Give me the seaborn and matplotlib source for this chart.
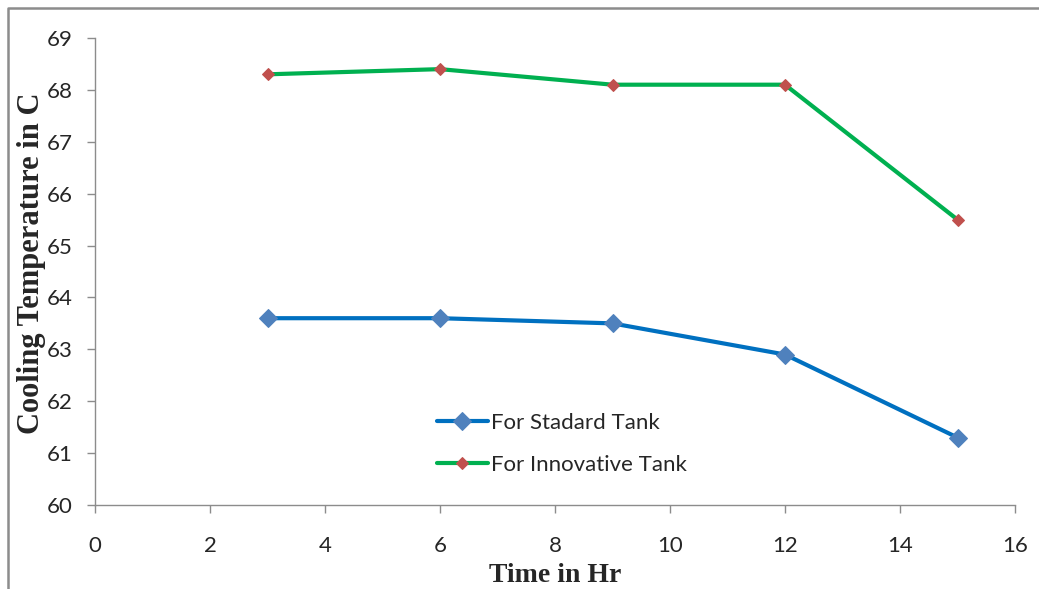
import matplotlib
matplotlib.use("Agg")
import matplotlib.pyplot as plt
from matplotlib.lines import Line2D
import seaborn as sns
import pandas as pd

time_hr = [3, 6, 9, 12, 15]
standard_tank = [63.6, 63.6, 63.5, 62.9, 61.3]
innovative_tank = [68.3, 68.4, 68.1, 68.1, 65.5]
series_names = ["For Stadard Tank", "For Innovative Tank"]
x_ticks = [0, 2, 4, 6, 8, 10, 12, 14, 16]
y_ticks = [60, 61, 62, 63, 64, 65, 66, 67, 68, 69]

sns.set_style("white")
plt.rcParams['font.family'] = ['Lato', 'DejaVu Sans']

W, H = 1039, 589
fig = plt.figure(figsize=(W / 100, H / 100), dpi=100)
ax = fig.add_axes([95 / W, 1 - 505 / H, (1015 - 95) / W, (505 - 38) / H])

sns.lineplot(x=time_hr, y=standard_tank, ax=ax, color="#0070C0", linewidth=3,
             marker="D", markersize=9, markerfacecolor="#4F81BD",
             markeredgecolor="#4F81BD", label=series_names[0])
sns.lineplot(x=time_hr, y=innovative_tank, ax=ax, color="#00B050", linewidth=3,
             marker="D", markersize=6, markerfacecolor="#C0504D",
             markeredgecolor="#C0504D", label=series_names[1])

ax.set_xlim(0, 16)
ax.set_ylim(60, 69)
ax.set_xticks(x_ticks)
ax.set_yticks(y_ticks)
for s in ["top", "right"]:
    ax.spines[s].set_visible(False)
for s in ["left", "bottom"]:
    ax.spines[s].set_color("#8c8c8c")
    ax.spines[s].set_linewidth(1.0)
ax.tick_params(axis="both", which="major", direction="out", length=6,
               width=1.0, color="#8c8c8c", labelsize=16, labelcolor="#262626",
               left=True, bottom=True)
ax.tick_params(axis="x", pad=16)
ax.tick_params(axis="y", pad=10)

ax.set_xlabel("Time in Hr", fontsize=20, fontweight="bold",
              family=["Liberation Serif"], labelpad=5)
ax.set_ylabel("Cooling Temperature in C", fontsize=22, fontweight="bold",
              family=["Liberation Serif"], va="center")
ax.yaxis.set_label_coords((32 - 95) / 920, (505 - 263.5) / 467)

leg = ax.legend(loc="upper left", bbox_to_anchor=(428 / W, 1 - 404 / H),
                bbox_transform=fig.transFigure, frameon=False, fontsize=16,
                handlelength=2.3, handletextpad=0.15, labelspacing=1.0,
                borderaxespad=0)
for t in leg.get_texts():
    t.set_color("#262626")

# outer chart frame (left and top edges)
fig.add_artist(Line2D([8 / W, 8 / W, 1.0], [0.0, 1 - 8 / H, 1 - 8 / H],
                      transform=fig.transFigure, color="#8c8c8c", linewidth=1.8))

fig.savefig("out.png", dpi=100)
